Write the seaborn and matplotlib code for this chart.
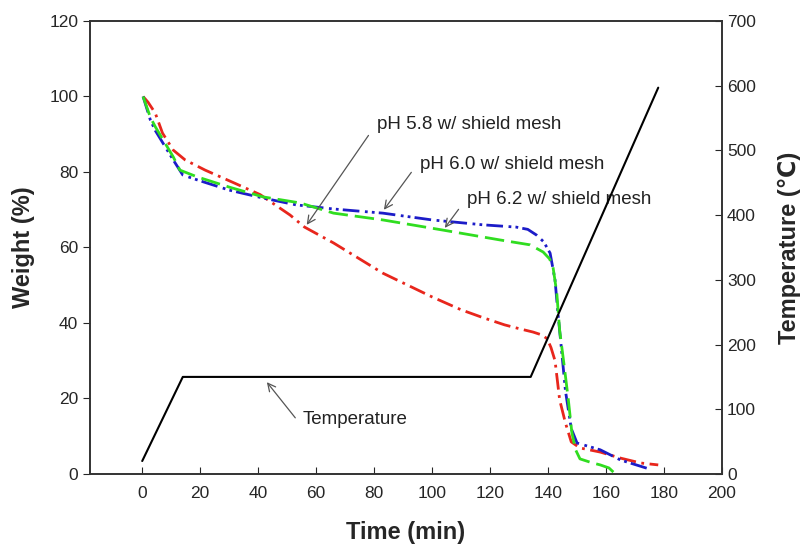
import numpy as np
import pandas as pd
import seaborn as sns
import matplotlib.pyplot as plt

# weight loss curves (time in min, weight in %)
time_58 = [0.3, 2, 4.5, 7, 10.7, 14.8, 21.7, 32, 40.7, 51, 56, 66, 83, 100, 110, 117.6, 125, 130, 134.8, 138, 139.7, 141, 142.4, 144, 146, 148, 151, 158, 165, 172, 178]
weight_58 = [100, 98.5, 95.6, 90.3, 85.8, 83.2, 80.5, 77, 74, 68.6, 65.4, 61.2, 53.2, 46.9, 43.5, 41.4, 39.5, 38.5, 37.6, 36.8, 35.8, 33.5, 30, 19.6, 13.5, 8.5, 6.9, 5.8, 4.2, 2.9, 2.4]

time_60 = [0.3, 2.8, 4.5, 10.7, 14, 19, 30, 41.7, 53, 66, 83, 100, 117.6, 129, 133, 136, 138.5, 140.7, 142.4, 143.4, 144.5, 146, 148, 150, 158, 165, 175]
weight_60 = [100, 93.8, 91, 83.2, 79.2, 77.9, 75.2, 73.1, 71.3, 70.2, 69.1, 67.3, 66, 65.4, 64.8, 63.3, 61.5, 58.5, 51.4, 42.6, 34, 22, 12, 8.2, 6.4, 3.7, 1.3]

time_62 = [0.3, 2.8, 4.5, 10.7, 13, 19, 30, 41.7, 54.5, 66, 83, 103.8, 123.4, 133.8, 138.3, 140.5, 141.7, 143, 144, 145.5, 147, 148.2, 149.5, 151, 155, 158, 161, 166]
weight_62 = [100, 94.5, 92, 84, 80.5, 78.7, 76, 73.4, 71.8, 69.1, 67.3, 64.6, 62, 60.7, 58.8, 57, 54.8, 48, 38, 29, 19.6, 11, 6.4, 4, 3, 2.4, 1.6, -2]

# furnace temperature programme
time_temp = [0, 14, 134, 178]
temp_c = [20, 150, 150, 597]

sns.set_style('ticks')
plt.rcParams['font.family'] = ['Liberation Sans', 'DejaVu Sans']

fig = plt.figure(figsize=(8.06, 5.47), dpi=100)
ax = fig.add_axes([0.1117, 0.1335, 0.7841, 0.8281])
ax2 = ax.twinx()

sns.lineplot(x=time_58, y=weight_58, ax=ax, color='#e8261c', lw=2, sort=False,
             linestyle=(0, (6, 2, 1, 2)))
sns.lineplot(x=time_60, y=weight_60, ax=ax, color='#1c1cc8', lw=2, sort=False,
             linestyle=(0, (6, 2, 1, 1.5, 1, 1.5)))
sns.lineplot(x=time_62, y=weight_62, ax=ax, color='#30dd20', lw=2, sort=False,
             linestyle=(0, (7, 2.5)))
sns.lineplot(x=time_temp, y=temp_c, ax=ax2, color='black', lw=1.5, sort=False)

ax.set_xlim(-18, 200)
ax.set_ylim(0, 120)
ax2.set_ylim(0, 700)
ax.set_xticks(np.arange(0, 201, 20))
ax.set_yticks(np.arange(0, 121, 20))
ax2.set_yticks(np.arange(0, 701, 100))

ax.tick_params(axis='x', direction='in', length=5, labelsize=12.5, pad=9)
ax.tick_params(axis='y', direction='out', length=5, labelsize=12.5)
ax2.tick_params(axis='y', direction='in', length=5, labelsize=12.5)
for a in (ax, ax2):
    for s in a.spines.values():
        s.set_linewidth(1.2)
        s.set_color('#333333')

ax.set_xlabel('Time (min)', fontsize=17, fontweight='bold', labelpad=14)
ax.set_ylabel('Weight (%)', fontsize=17, fontweight='bold', labelpad=10)
ax2.set_ylabel('Temperature (℃)', fontsize=17, fontweight='bold', labelpad=16)

arrow = dict(arrowstyle='->', color='#555555', lw=0.9, mutation_scale=14)
notes = [
    ('pH 5.8 w/ shield mesh', (81, 92.5), (78.6, 90.3), (56.2, 65.4)),
    ('pH 6.0 w/ shield mesh', (95.9, 81.9), (93.4, 80.5), (82.8, 69.4)),
    ('pH 6.2 w/ shield mesh', (112, 72.6), (109.7, 70.7), (103.8, 64.6)),
    ('Temperature', (55.5, 14.3), (53.4, 14.3), (42.4, 24.9)),
]
for label, pos, tail, tip in notes:
    ax.text(pos[0], pos[1], label, fontsize=13.5, va='center', ha='left', color='#222222')
    ax.annotate('', xy=tip, xytext=tail, arrowprops=arrow)

fig.savefig('out.png', dpi=100)
